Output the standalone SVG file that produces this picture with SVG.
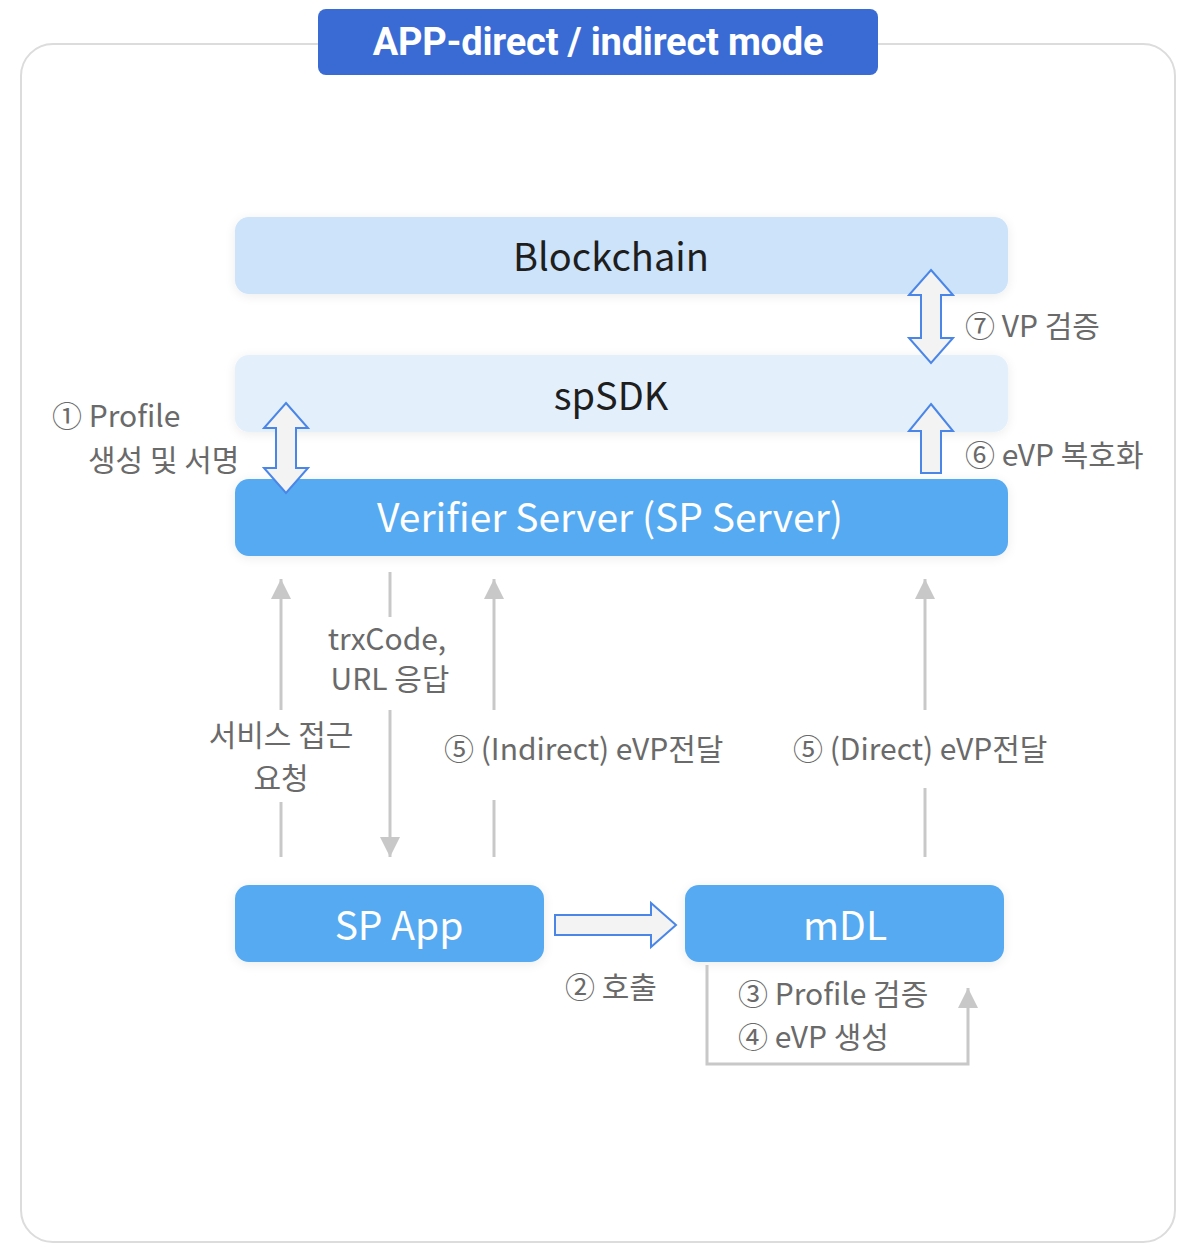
<svg xmlns="http://www.w3.org/2000/svg" width="1200" height="1258" viewBox="0 0 1200 1258">
<defs>
<style>
.frame{fill:#fff;stroke:#dcdcdc;stroke-width:2}
.title-bg{fill:#3A6BD4}
.title{font-family:Roboto,"Liberation Sans",sans-serif;font-weight:700;font-size:38px;fill:#fff;text-anchor:middle;letter-spacing:-0.2px}
.n-light{fill:#CCE3FA}
.n-lighter{fill:#E3F0FC}
.n-blue{fill:#55AAF2}
.ntxt-dark{font-family:"Noto Sans CJK KR","Noto Sans",sans-serif;font-size:38px;fill:#1e1e1e;text-anchor:middle}
.ntxt-white{font-family:"Noto Sans CJK KR","Noto Sans",sans-serif;font-size:39px;fill:#fff;text-anchor:middle}
.lbl{font-family:"Noto Sans CJK KR","Noto Sans",sans-serif;font-size:30px;fill:#6a6a6a}
.mid{text-anchor:middle}
.gl{stroke:#c8c8c8;stroke-width:3;fill:none}
.blk{fill:#f3f3f3;stroke:#4A86E8;stroke-width:2;stroke-linejoin:miter}
</style>
<marker id="gh" viewBox="0 0 20 20" refX="20" refY="10" markerWidth="20" markerHeight="20" markerUnits="userSpaceOnUse" orient="auto">
<path d="M0,0 L20,10 L0,20 z" fill="#c8c8c8"/>
</marker>
<filter id="sh" x="-10%" y="-40%" width="120%" height="180%">
<feGaussianBlur in="SourceAlpha" stdDeviation="6"/>
<feOffset dy="2"/>
<feComponentTransfer><feFuncA type="linear" slope="0.08"/></feComponentTransfer>
<feMerge><feMergeNode/><feMergeNode in="SourceGraphic"/></feMerge>
</filter>
</defs>
<rect width="1200" height="1258" fill="#fff"/>
<rect class="frame" x="21" y="44" width="1154" height="1198" rx="32"/>
<g id="title">
<rect class="title-bg" x="318" y="9" width="560" height="66" rx="8"/>
<text class="title" x="598" y="55">APP-direct / indirect mode</text>
</g>
<g id="blockchain">
<rect class="n-light" x="235" y="217" width="773" height="77" rx="14" filter="url(#sh)"/>
<text class="ntxt-dark" x="611" y="271">Blockchain</text>
</g>
<g id="spsdk">
<rect class="n-lighter" x="235" y="355" width="773" height="77" rx="14" filter="url(#sh)"/>
<text class="ntxt-dark" x="611" y="410">spSDK</text>
</g>
<g id="verifier">
<rect class="n-blue" x="235" y="479" width="773" height="77" rx="14" filter="url(#sh)"/>
<text class="ntxt-white" x="610" y="532">Verifier Server (SP Server)</text>
</g>
<g id="spapp">
<rect class="n-blue" x="235" y="885" width="309" height="77" rx="14" filter="url(#sh)"/>
<text class="ntxt-white" x="399" y="940">SP App</text>
</g>
<g id="mdl">
<rect class="n-blue" x="685" y="885" width="319" height="77" rx="14" filter="url(#sh)"/>
<text class="ntxt-white" x="845" y="940">mDL</text>
</g>
<g id="connectors">
<path class="blk" d="M286,403 L308,428 L296,428 L296,468 L308,468 L286,493 L264,468 L276,468 L276,428 L264,428 Z"/>
<path class="blk" d="M931,270 L953,295 L941,295 L941,338 L953,338 L931,363 L909,338 L921,338 L921,295 L909,295 Z"/>
<path class="blk" d="M931,404 L953,431 L941,431 L941,473 L921,473 L921,431 L909,431 Z"/>
<path class="blk" d="M555,915 L651,915 L651,903 L676,925 L651,947 L651,935 L555,935 Z"/>
<line class="gl" x1="281" y1="857" x2="281" y2="802"/>
<line class="gl" x1="281" y1="710" x2="281" y2="579" marker-end="url(#gh)"/>
<line class="gl" x1="390" y1="572" x2="390" y2="617"/>
<line class="gl" x1="390" y1="710" x2="390" y2="857" marker-end="url(#gh)"/>
<line class="gl" x1="494" y1="857" x2="494" y2="800"/>
<line class="gl" x1="494" y1="710" x2="494" y2="579" marker-end="url(#gh)"/>
<line class="gl" x1="925" y1="857" x2="925" y2="788"/>
<line class="gl" x1="925" y1="710" x2="925" y2="579" marker-end="url(#gh)"/>
<polyline class="gl" points="707,965 707,1064 968,1064 968,988" marker-end="url(#gh)"/>
</g>
<g id="labels">
<text class="lbl" x="52" y="427">① Profile</text>
<text class="lbl" x="88" y="471">생성 및 서명</text>
<text class="lbl" x="965" y="337">⑦ VP 검증</text>
<text class="lbl" x="965" y="466">⑥ eVP 복호화</text>
<text class="lbl mid" x="387" y="650">trxCode,</text>
<text class="lbl mid" x="390" y="690">URL 응답</text>
<text class="lbl mid" x="281" y="746">서비스 접근</text>
<text class="lbl mid" x="281" y="789">요청</text>
<text class="lbl" x="444" y="760">⑤ (Indirect) eVP전달</text>
<text class="lbl" x="793" y="760">⑤ (Direct) eVP전달</text>
<text class="lbl" x="565" y="998">② 호출</text>
<text class="lbl" x="738" y="1005">③ Profile 검증</text>
<text class="lbl" x="738" y="1048">④ eVP 생성</text>
</g>
</svg>
